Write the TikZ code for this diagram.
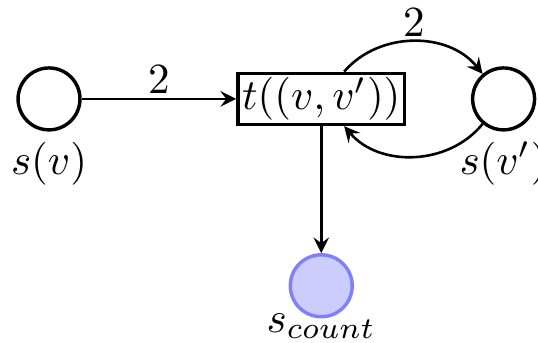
\documentclass[tikz,border=0pt]{standalone}
\usepackage{amsmath,amssymb}
\usetikzlibrary{arrows,positioning}

\begin{document}
\begin{tikzpicture}[
    place/.style={circle,draw,thick,minimum size=14.4pt,inner sep=0pt},
    transition/.style={rectangle,draw,thick,minimum width=38.8pt,minimum height=11.9pt,inner sep=0.5pt},
    flow/.style={semithick,->,>=stealth}
]
    \useasboundingbox (-11.4pt,-56.7pt) rectangle (113.7pt,23.0pt);

    \node[place,label={[label distance=-1.1pt]below:$s(v)$}] (sv) at (0,0) {};
    \node[transition,right=35.9pt of sv] (t) {$t((v,v'))$};
    \node[place,right=15pt of t,label={[label distance=-1.1pt]below:$s(v')$}] (svp) {};
    \node[place,fill=blue!20,draw=blue!50,below=29.5pt of t,label={[label distance=-4.6pt]below:$s_{count}$}] (scount) {};

    \draw[flow] (sv) -- node[above,inner sep=1pt] {$2$} (t);
    \draw[flow] (t) to[bend left=50] node[above,inner sep=1pt] {$2$} (svp);
    \draw[flow] (svp) to[bend left=50] (t);
    \draw[flow] (t) -- (scount);
\end{tikzpicture}
\end{document}
